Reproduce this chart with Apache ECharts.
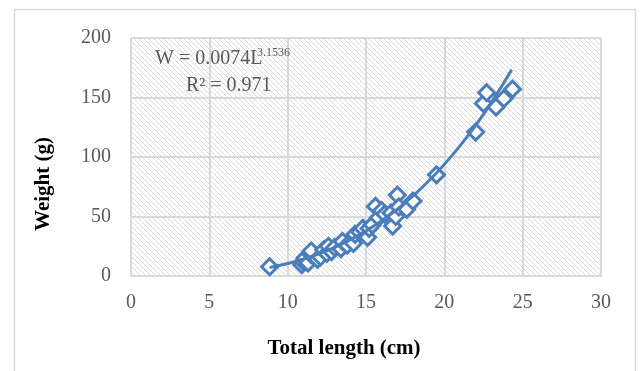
<!DOCTYPE html>
<html>
<head>
<meta charset="utf-8">
<script src="https://cdn.jsdelivr.net/npm/echarts@6/dist/echarts.min.js"></script>
<style>html,body{margin:0;padding:0;background:#fff;}#c{width:642px;height:371px;}</style>
</head>
<body>
<div id="c"></div>
<script>
// Observed data: total length (cm) and weight (g)
var lengths = [8.85, 10.9, 11.0, 11.1, 11.3, 11.5, 11.5, 11.9, 12.1, 12.3, 12.5, 12.6, 12.8, 13.0, 13.4, 13.5, 13.8, 14.2, 14.3, 14.6, 14.8, 15.1, 15.2, 15.4, 15.6, 15.8, 16.0, 16.2, 16.6, 16.7, 16.9, 17.0, 17.1, 17.6, 18.0, 19.5, 22.0, 22.5, 22.7, 23.3, 23.8, 24.35];
var weights = [7.8, 9.5, 12, 15, 11, 18, 21, 14, 16, 22, 19, 25, 20.5, 24, 23, 29, 26, 27.5, 35, 37, 40, 32.5, 40, 43, 58.5, 49, 55, 52, 53, 42, 50, 68, 58, 56, 63, 85, 121, 145, 154, 142, 149, 157];
// Power trendline
var trendLengths = [8.85, 10, 11, 12, 13, 14, 15, 16, 17, 18, 19, 20, 21, 22, 23, 24.3];
var trendWeights = [7.2, 10.5, 14.2, 18.7, 24.1, 30.5, 37.9, 46.4, 56.2, 67.3, 79.8, 93.8, 109.4, 126.6, 145.7, 173.3];
var xTicks = [0, 5, 10, 15, 20, 25, 30];
var yTicks = [0, 50, 100, 150, 200];

var pts = lengths.map(function (l, i) { return [l, weights[i]]; });
var trend = trendLengths.map(function (l, i) { return [l, trendWeights[i]]; });

var pc = document.createElement('canvas');
pc.width = 5; pc.height = 5;
var g = pc.getContext('2d');
g.fillStyle = '#ffffff'; g.fillRect(0, 0, 5, 5);
g.strokeStyle = '#dadada'; g.lineWidth = 1;
g.beginPath();
g.moveTo(-1, -1); g.lineTo(6, 6);
g.moveTo(-1, 4); g.lineTo(1, 6);
g.moveTo(4, -1); g.lineTo(6, 1);
g.stroke();

var blue = '#4a7ebb';
var serif = '"Liberation Serif", "Times New Roman", serif';
var chart = echarts.init(document.getElementById('c'), null, {renderer: 'canvas'});
chart.setOption({
  animation: false,
  backgroundColor: '#ffffff',
  grid: {left: 131, right: 41, top: 38, bottom: 95, show: true, backgroundColor: {image: pc, repeat: 'repeat'}, borderWidth: 0},
  xAxis: {
    type: 'value', min: xTicks[0], max: xTicks[xTicks.length - 1], interval: 5,
    axisLine: {show: true, lineStyle: {color: '#d9d9d9', width: 2}},
    axisTick: {show: false},
    axisLabel: {color: '#595959', fontFamily: serif, fontSize: 20, margin: 17},
    splitLine: {show: true, lineStyle: {color: '#d9d9d9', width: 2}}
  },
  yAxis: {
    type: 'value', min: yTicks[0], max: yTicks[yTicks.length - 1], interval: 50,
    axisLine: {show: false},
    axisTick: {show: false},
    axisLabel: {color: '#595959', fontFamily: serif, fontSize: 20, margin: 20},
    splitLine: {show: true, lineStyle: {color: '#d9d9d9', width: 2}}
  },
  series: [
    {type: 'scatter', data: pts, symbol: 'diamond', symbolSize: 16,
     itemStyle: {color: '#ffffff', borderColor: blue, borderWidth: 3, opacity: 1}, z: 3},
    {type: 'line', data: trend, smooth: true, showSymbol: false, symbol: 'none',
     lineStyle: {color: blue, width: 3}, z: 4}
  ],
  graphic: [
    {type: 'rect', shape: {x: 14.5, y: 9.5, width: 621, height: 400}, style: {fill: 'none', stroke: '#d9d9d9', lineWidth: 1.5}, z: -10, silent: true},
    {type: 'text', x: 155, y: 59, style: {text: 'W = 0.0074L', font: '20px ' + serif, fill: '#595959', verticalAlign: 'middle', align: 'left'}, z: 10},
    {type: 'text', x: 257, y: 53, style: {text: '3.1536', font: '12px ' + serif, fill: '#595959', verticalAlign: 'middle', align: 'left'}, z: 10},
    {type: 'text', x: 186, y: 86, style: {text: 'R² = 0.971', font: '20px ' + serif, fill: '#595959', verticalAlign: 'middle', align: 'left'}, z: 10},
    {type: 'text', x: 344, y: 349, style: {text: 'Total length (cm)', font: 'bold 21px ' + serif, fill: '#000000', verticalAlign: 'middle', align: 'center'}, z: 10},
    {type: 'text', x: 44, y: 184, rotation: Math.PI / 2, style: {text: 'Weight (g)', font: 'bold 21px ' + serif, fill: '#000000', verticalAlign: 'middle', align: 'center'}, z: 10}
  ]
});
</script>
</body>
</html>
